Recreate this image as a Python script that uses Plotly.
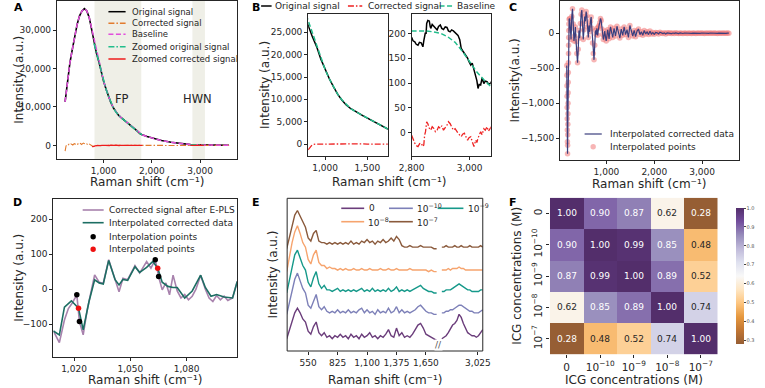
import numpy as np
import plotly.graph_objects as go

W, H = 765, 388
FONT = "DejaVu Sans, sans-serif"
INK = "#262626"

def X(p):
    return p / W

def Y(p):
    return 1 - p / H

# ---------------- Panel A / B data ----------------
a_x = [200, 250, 300, 350, 400, 450, 500, 550, 600, 650, 700, 750, 800, 850, 900, 950,
       1000, 1050, 1100, 1150, 1200, 1250, 1300, 1350, 1400, 1450, 1500, 1550, 1600, 1650,
       1700, 1750, 1800, 1900, 2000, 2200, 2400, 2600, 2800, 3000, 3200, 3400, 3600]
a_orig = [11300, 17000, 21500, 25000, 28500, 31500, 33700, 35000, 35600, 35000,
          33300, 30300, 26500, 24000, 21800, 19000, 16600, 14600, 12800, 11100,
          9800, 8750, 7950, 7350, 6850, 6300, 5800, 5300, 4800, 4300,
          3700, 3100, 2750, 2300, 1900, 1250, 800, 480, 200, 130, 80, 50, 35]
a_base = [11300, 17000, 21500, 25000, 28500, 31500, 33700, 35000, 35600, 35000,
          33300, 30400, 27700, 24600, 21900, 19100, 16700, 14600, 12800, 11100,
          9850, 8800, 7950, 7350, 6850, 6300, 5800, 5300, 4800, 4300,
          3700, 3150, 2750, 2300, 1900, 1250, 800, 480, 205, 130, 80, 50, 35]

a_corr_x = [200, 210, 220] + list(range(240, 801, 20)) + list(range(850, 3601, 50))
a_corr_y = [-1500, -700, -150,
            150, 50, 300, 150, 400, 250, 100, 350, 450, 200,
            400, 300, 550, 350, 500, 250, 400, 600, 450, 650,
            500, 300, 550, 400, 200, -100, -250, -300, -150,
            -20, 40, -30, 20, -40, 30, 0, -20, 40, -10,
            20, -30, 10, 30, -20, 0, 20, -10, 10, -20,
            30, -10, 10, -20, 20, 0, -10, 10, -10, 15,
            0, -10, 10, 0, -5, 5, -10, 5, 0, -10,
            10, 5, 0, -10, -5, 5, 0, -5, 5, 0,
            -5, 5, 0, -5, 5, 0]

fp_corr_x = list(range(760, 1801, 20))
fp_corr_y = [-300, -350, -250, -150, -50, -100, 0, -80, 30, -40,
             20, -60, 40, -20, 10, -50, 30, 0, -30, 40,
             -10, 20, -40, 10, 50, -20, 0, 30, -30, 10,
             40, -10, -40, 20, 0, 30, -20, 10, -30, 20,
             0, -20, 30, -10, 10, 40, -30, 0, 20, -10,
             10, -20, 0]

fp_range = [810, 1780]
hwn_range = [2840, 3100]

# B left: corrected signal of the fingerprint window
b_fp_corr_x = [800, 810, 820, 830, 845, 860, 880, 900, 925, 950, 975, 1000, 1050, 1100,
               1150, 1200, 1250, 1300, 1350, 1400, 1450, 1500, 1550, 1600, 1650, 1700, 1750]
b_fp_corr_y = [-1300, -1000, -750, -500, -250, -100, -20, 0, -40, 20,
               -10, -30, 0, 20, -30, 10, -20, 0, 20, -10,
               30, -10, 10, -20, 0, 10, -10]

# B right: high-wavenumber window
b_hwn_x = [2800, 2805, 2811, 2816, 2822, 2827, 2833, 2836, 2839, 2842, 2844, 2847, 2850, 2852,
           2856, 2861, 2864, 2866, 2871, 2877, 2882, 2888, 2893, 2899, 2904, 2910, 2916, 2922,
           2927, 2933, 2938, 2944, 2950, 2955, 2960, 2966, 2971, 2976, 2982, 2987, 2993, 2998,
           3004, 3009, 3015, 3018, 3021, 3025, 3029, 3033, 3038, 3043, 3049, 3054, 3060, 3065,
           3071, 3075]
b_hwn_orig = [192, 185, 183, 178, 176, 182, 181, 175, 173, 185, 197, 200, 200, 220,
              226, 225, 214, 210, 218, 215, 211, 207, 214, 217, 210, 208, 213, 212,
              205, 203, 207, 205, 202, 200, 196, 187, 170, 165, 160, 155, 150, 143,
              136, 140, 126, 118, 113, 105, 89, 97, 96, 110, 99, 104, 103, 98,
              99, 103]
b_hwn_base_x = [2800, 2825, 2850, 2875, 2900, 2925, 2950, 2975, 3000, 3025, 3050, 3075]
b_hwn_base = [205, 205, 205, 203, 200, 193, 182, 164, 142, 122, 106, 92]
b_hwn_corr_x = [2800, 2806, 2811, 2816, 2822, 2828, 2833, 2839, 2842, 2845,
                2848, 2852, 2856, 2861, 2866, 2871, 2877, 2882, 2888, 2893,
                2899, 2904, 2910, 2916, 2922, 2927, 2933, 2938, 2944, 2950,
                2955, 2960, 2966, 2971, 2976, 2982, 2987, 2993, 2998, 3004,
                3009, 3015, 3021, 3025, 3029, 3033, 3038, 3043, 3049, 3054,
                3060, 3065, 3071, 3075]
b_hwn_corr = [-5, -15, -21, -26, -28, -22, -21, -28, -25, -5,
              2, 22, 18, 9, 5, 12, 8, 2, 5, 12,
              9, 14, 5, 10, 15, 22, 18, 12, 5, 8,
              2, -1, -5, -8, -3, -1, -8, -15, -10, -8,
              -18, -28, -15, -20, -11, -5, 2, -4, 8, 5,
              12, 3, 10, 12]

# ---------------- Panel C data ----------------
c_x = (list(range(170, 187, 2)) + list(range(188, 215, 2)) + [220]
       + list(range(230, 1101, 15)) + list(range(1130, 3561, 30)))
c_y = ([-460, -600, -750, -900, -1060, -1220, -1380, -1550, -1720]
       + [-1600, -1450, -1300, -1150, -1000, -850, -700, -560, -420, -290, -170, -60, 40, 130]
       + [200]
       + [210, 60, -90, 240, 350, 130, -110, -40, 90, -120,
          -290, -420, -230, 40, -70, 140, 270, 330, 130, -90,
          50, 240, 170, 310, 250, 90, -60, 110, 20, 170,
          230, 70, -140, -290, -380, -170, 40, -20, 70, -30,
          90, 110, 150, 210, 180, 60, -20, -90, -40, 30,
          -50, -110, -40, 50, -10, -80, 20, 90, 40]
       + [-60, 70, -40, 100, 20, -70, 60, -30, 90, -20,
          50, -60, 110, 10, -40, 40, -50, 30, 60, -20,
          20, -30, 40, -10, 20, -20, 30, -10, 10, -15,
          10, 5, -10, 15, 0, -5, 5, -10, 5, 0,
          5, -5, 3, -3, 5, 0, -5, 4, 0, -4,
          3, 0, -3, 4, 0, -3, 2, 0, -3, 3,
          0, -2, 3, 0, -3, 2, 0, -2, 3, 0,
          -2, 2, 0, -3, 2, 0, -2, 3, 0, -2,
          2, 0])

# ---------------- Panel D data ----------------
d_pls_x = [1009, 1012.2, 1014.9, 1017, 1019, 1021.5, 1022.9, 1024.9, 1027, 1029,
           1031, 1033.4, 1035.6, 1038.5, 1041.9, 1044, 1046.1, 1048.6, 1052.5, 1055,
           1058.7, 1061, 1063.3, 1065.1, 1067, 1069, 1070.9, 1072.8, 1075, 1077,
           1079, 1081, 1083, 1085, 1087.5, 1090, 1092, 1094, 1096, 1098,
           1100, 1102, 1104.5, 1107]
d_pls_y = [-119, -152, -88, -55, -40, -16, -92, -130, -60, -5,
           41, 20, 17, 84, 25, -7, 31, 27, 67, 46,
           79, 60, 84, 36, -2, 18, -16, 40, -5, -25,
           -15, -30, -20, 0, 40, 0, -25, -35, -18, -30,
           -20, -32, -25, 22]
d_int_x = [1009, 1012.2, 1014.9, 1018.6, 1022.4, 1024.9, 1028, 1031, 1033.4, 1035.6,
           1038.5, 1041.9, 1044, 1046.1, 1048.6, 1052.5, 1055, 1058.7, 1062, 1064.6,
           1067, 1070, 1072.8, 1075, 1079, 1083, 1087.5, 1090, 1093, 1096,
           1100, 1104.5, 1107]
d_int_y = [-119, -130, -51, -33, -54, -116, -35, 27, 18, 15,
           82, 27, 12, 28, 25, 64, 48, 62, 79, 60,
           20, 8, 5, 5, -25, -5, 40, 5, -20, -15,
           -22, -25, 22]
d_anchor_x = [1021.5, 1022.9, 1063.3, 1065.1]
d_anchor_y = [-16, -92, 84, 36]
d_filled_x = [1022.4, 1064.6]
d_filled_y = [-54, 60]

# ---------------- Panel E data ----------------
e_names = ["0", "10<sup>−10</sup>", "10<sup>−9</sup>", "10<sup>−8</sup>", "10<sup>−7</sup>"]
e_offsets = [8, 24, 38, 52, 67]
e_xl = list(range(350, 1751, 25))
e_xr = list(range(2690, 3071, 20))
e_left = [
    [0, 6, 12, 17, 20, 17, 13, 11, 5, 3, 8, 11, 4, 2, 4, 1, 2, 0, 2, 1,
     3, 1, 2, 0, 3, 1, 2, 0, 3, 1, 2, 4, 1, 2, 0, 2, 1, 3, 6, 2,
     1, 7, 2, 4, 1, 2, 1, 3, 6, 9, 10, 7, 3, 2, 1, 0, -1],
    [0, 8, 16, 23, 27, 22, 17, 14, 6, 4, 9, 13, 5, 3, 5, 2, 1, 2, 1, 3,
     1, 2, 1, 3, 1, 2, 1, 3, 4, 1, 3, 1, 2, 0, 3, 1, 2, 1, 4, 1,
     2, 5, 1, 3, 1, 2, 1, 2, 3, 5, 6, 4, 2, 1, 1, 0, 0],
    [0, 9, 18, 25, 28, 23, 18, 15, 7, 4, 10, 14, 6, 3, 5, 2, 2, 1, 2, 3,
     1, 2, 1, 2, 1, 2, 1, 2, 3, 1, 2, 1, 3, 1, 2, 1, 2, 1, 3, 1,
     2, 4, 1, 2, 1, 2, 1, 2, 3, 4, 5, 3, 2, 1, 1, 0, 0],
    [0, 10, 19, 26, 30, 25, 19, 16, 8, 5, 11, 14, 6, 4, 4, 2, 3, 2, 2, 1,
     2, 1, 2, 1, 1, 2, 1, 1, 2, 1, 1, 2, 1, 1, 1, 2, 1, 1, 2, 1,
     1, 2, 1, 1, 1, 1, 2, 1, 1, 1, 1, 1, 1, 0, 1, 0, 0],
    [0, 8, 16, 22, 25, 21, 17, 14, 7, 5, 10, 12, 5, 4, 4, 3, 4, 3, 4, 3,
     4, 3, 4, 3, 5, 3, 4, 3, 5, 4, 6, 4, 5, 3, 5, 4, 6, 4, 5, 7,
     5, 8, 6, 2, 1, 1, 2, 1, 1, 1, 2, 1, 1, 1, 1, 0, 0],
]
e_right = [
    [0, 1, 2, 4, 7, 9, 10, 12, 16, 14, 10, 7, 4, 3, 2, 2, 1, 2, 4, 6],
    [1, 1, 2, 2, 3, 3, 4, 5, 6, 6, 5, 4, 3, 2, 2, 1, 1, 1, 2, 3],
    [1, 1, 2, 2, 2, 3, 4, 5, 6, 5, 4, 3, 2, 2, 1, 1, 1, 1, 2, 2],
    [1, 1, 1, 2, 1, 2, 2, 2, 3, 2, 2, 1, 1, 1, 1, 1, 1, 1, 1, 1],
    [1, 1, 2, 1, 1, 1, 2, 1, 1, 2, 1, 1, 1, 2, 1, 1, 1, 1, 2, 1],
]
e_colors = ["#6b3d7b", "#7d80b8", "#16998a", "#f6a46e", "#8a5a3c"]

# ---------------- Panel F data ----------------
f_labels = ["0", "10<sup>−10</sup>", "10<sup>−9</sup>", "10<sup>−8</sup>", "10<sup>−7</sup>"]
f_corr = [[1.00, 0.90, 0.87, 0.62, 0.28],
          [0.90, 1.00, 0.99, 0.85, 0.48],
          [0.87, 0.99, 1.00, 0.89, 0.52],
          [0.62, 0.85, 0.89, 1.00, 0.74],
          [0.28, 0.48, 0.52, 0.74, 1.00]]

# PuOr colormap, softened over white
puor = ["#7f3b08", "#b35806", "#e08214", "#fdb863", "#fee0b6", "#f7f7f7",
        "#d8daeb", "#b2abd2", "#8073ac", "#542788", "#2d004b"]
def soften(h, a=0.82):
    r, g, b = int(h[1:3], 16), int(h[3:5], 16), int(h[5:7], 16)
    return "rgb(%d,%d,%d)" % tuple(round(a * c + (1 - a) * 255) for c in (r, g, b))
f_scale = [[i / 10, soften(c)] for i, c in enumerate(puor)]

# ---------------- figure ----------------
fig = go.Figure()

def line(x, y, xa, ya, color, width=1.5, dash="solid"):
    fig.add_trace(go.Scatter(x=x, y=y, mode="lines", xaxis=xa, yaxis=ya,
                             line=dict(color=color, width=width, dash=dash)))

DASH = "5px,2.5px"
DASHDOT = "6px,2px,1.5px,2px"

# A
line(a_x, a_orig, "x", "y", "black", 1.6)
line(a_corr_x, a_corr_y, "x", "y", "#e27b2e", 1.1, DASHDOT)
line(a_x, a_base, "x", "y", "#e24fdc", 1.5, DASH)
zx = [v for v in a_x if fp_range[0] - 10 <= v <= 1800]
zy = [a_orig[a_x.index(v)] for v in zx]
line(zx + [None] + b_hwn_x, zy + [None] + b_hwn_orig, "x", "y", "#22bd8c", 1.5, DASHDOT)
line(fp_corr_x + [None] + b_hwn_corr_x, fp_corr_y + [None] + b_hwn_corr, "x", "y", "#ee1c1c", 1.3)

# B left
line(a_x, a_orig, "x2", "y2", "black", 1.5)
line(b_fp_corr_x, b_fp_corr_y, "x2", "y2", "#ee2222", 1.3, DASHDOT)
line(a_x, a_base, "x2", "y2", "#22bd8c", 1.5, DASH)
# B right
line(b_hwn_x, b_hwn_orig, "x3", "y3", "black", 1.5)
line(b_hwn_corr_x, b_hwn_corr, "x3", "y3", "#ee2222", 1.3, DASHDOT)
line(b_hwn_base_x, b_hwn_base, "x3", "y3", "#22bd8c", 1.5, DASH)

# C
fig.add_trace(go.Scatter(x=c_x, y=c_y, mode="markers", xaxis="x4", yaxis="y4",
                         marker=dict(color="rgba(240,120,120,0.55)", size=5.5, line=dict(width=0))))
line(c_x, c_y, "x4", "y4", "#3b3f7e", 1.2)

# D
line(d_pls_x, d_pls_y, "x5", "y5", "#a882ad", 1.6)
line(d_int_x, d_int_y, "x5", "y5", "#1d6e63", 1.6)
fig.add_trace(go.Scatter(x=d_anchor_x, y=d_anchor_y, mode="markers", xaxis="x5", yaxis="y5",
                         marker=dict(color="black", size=5.5)))
fig.add_trace(go.Scatter(x=d_filled_x, y=d_filled_y, mode="markers", xaxis="x5", yaxis="y5",
                         marker=dict(color="#ee1111", size=5.5)))

# E
for i in range(5):
    yl = [e_offsets[i] + v for v in e_left[i]]
    yr = [e_offsets[i] + v for v in e_right[i]]
    line(e_xl, yl, "x6", "y6", e_colors[i], 1.4)
    line(e_xr, yr, "x7", "y6", e_colors[i], 1.4)

# F
fig.add_trace(go.Heatmap(z=f_corr, x=list(range(5)), y=list(range(5)), xaxis="x8", yaxis="y8",
                         colorscale=f_scale, zmin=0.28, zmax=1.0,
                         colorbar=dict(thickness=8, len=156 / H, lenmode="fraction",
                                       x=X(747.7), xanchor="left", y=Y(276), yanchor="middle",
                                       outlinewidth=0, ticks="outside", ticklen=2,
                                       tickvals=[0.3, 0.4, 0.5, 0.6, 0.7, 0.8, 0.9, 1.0],
                                       tickformat=".1f",
                                       tickfont=dict(size=5, color="#555", family=FONT))))

# ---------------- axes ----------------
TICK = 9

def ax(**kw):
    d = dict(showline=True, linecolor=INK, linewidth=1, mirror=True, ticks="outside",
             ticklen=3, tickwidth=1, tickcolor=INK, showgrid=False, zeroline=False,
             tickangle=0, tickfont=dict(family=FONT, size=TICK, color=INK), tickformat=",")
    d.update(kw)
    return d

RS = "Raman shift (cm⁻¹)"
IA = "Intensity (a.u.)"

fig.update_layout(
    width=W, height=H, margin=dict(l=0, r=0, t=0, b=0), autosize=False,
    paper_bgcolor="white", plot_bgcolor="white", showlegend=False,
    font=dict(family=FONT, color=INK),
    xaxis=ax(domain=[X(46), X(235)], range=[30, 3770], tickvals=[1000, 2000, 3000], anchor="y"),
    yaxis=ax(domain=[Y(159), Y(1)], range=[-3540, 37570], tickvals=[0, 10000, 20000, 30000],
             anchor="x"),
    xaxis2=ax(domain=[X(309.3), X(392.7)], range=[800, 1740], tickvals=[1000, 1500], anchor="y2"),
    yaxis2=ax(domain=[Y(156), Y(14)], range=[-2680, 29100],
              tickvals=[0, 5000, 10000, 15000, 20000, 25000], anchor="x2"),
    xaxis3=ax(domain=[X(417.7), X(500.7)], range=[2800, 3073], tickvals=[2800, 3000], anchor="y3"),
    yaxis3=ax(domain=[Y(156), Y(14)], range=[-47, 239], tickvals=[0, 50, 100, 150, 200], anchor="x3"),
    xaxis4=ax(domain=[X(573.3), X(760.7)], range=[30, 3770], tickvals=[1000, 2000, 3000], anchor="y4"),
    yaxis4=ax(domain=[Y(160), Y(1)], range=[-1810, 460], tickvals=[-1500, -1000, -500, 0], anchor="x4"),
    xaxis5=ax(domain=[X(42.3), X(235)], range=[1009, 1107], tickvals=[1020, 1050, 1080], anchor="y5"),
    yaxis5=ax(domain=[Y(357.3), Y(199)], range=[-194, 257], tickvals=[-100, 0, 100, 200], anchor="x5"),
    xaxis6=ax(domain=[X(287.3), X(444.3)], range=[354, 1753], showline=False,
              tickvals=[550, 825, 1100, 1375, 1650], anchor="y6"),
    xaxis7=ax(domain=[X(446), X(492.3)], range=[2660, 3070], showline=False,
              tickvals=[3025], anchor="y6"),
    yaxis6=ax(domain=[Y(351), Y(198.3)], range=[0, 100], showline=False, ticks="",
              showticklabels=False, anchor="x6"),
    xaxis8=ax(domain=[X(562.7), X(738.3)], range=[-0.5, 4.5], showline=False, mirror=False,
              tickvals=list(range(5)), ticktext=f_labels, anchor="y8", ticklen=3,
              tickfont=dict(family=FONT, size=10.5, color=INK)),
    yaxis8=ax(domain=[Y(354.3), Y(197.7)], range=[4.5, -0.5], showline=False, mirror=False,
              tickvals=list(range(5)), ticktext=f_labels, anchor="x8", ticklen=3, tickangle=-90,
              tickfont=dict(family=FONT, size=10.5, color=INK)),
)

shapes = []
annotations = []

def ann(x, y, text, size, angle=0, xanchor="center", color=INK, family=FONT):
    annotations.append(dict(xref="paper", yref="paper", x=X(x), y=Y(y), text=text,
                            showarrow=False, xanchor=xanchor, yanchor="middle",
                            textangle=angle, font=dict(size=size, family=family, color=color)))

# axis titles
TS = 12
ann(140.5, 182, RS, TS)
ann(394, 182, RS, TS)
ann(667, 184, RS, TS)
ann(138.7, 380, RS, TS)
ann(389.5, 380, RS, TS)
ann(650.5, 380, "ICG concentrations (M)", TS)
ann(6, 80, IA, TS, -90)
ann(264, 85, IA, TS, -90)
ann(526.5, 80, "Intensity(a.u.)", TS, -90)
ann(6, 278, IA, TS, -90)
ann(272, 275, IA, TS, -90)
ann(528, 276, "ICG concentrations (M)", TS, -90)

# heatmap cell values, coloured for contrast
for i, row in enumerate(f_corr):
    for j, v in enumerate(row):
        annotations.append(dict(xref="x8", yref="y8", x=j, y=i, text="%.2f" % v, showarrow=False,
                                font=dict(size=9, family=FONT,
                                          color="white" if (v >= 0.8 or v <= 0.3) else INK)))

# shaded FP / HWN regions in A
for r in (fp_range, hwn_range):
    shapes.append(dict(type="rect", xref="x", yref="y domain", x0=r[0], x1=r[1], y0=0, y1=1,
                       fillcolor="#efefe7", line=dict(width=0), layer="below"))
annotations.append(dict(xref="x", yref="y", x=1380, y=12000, text="FP", showarrow=False,
                        font=dict(size=11.5, family=FONT, color=INK)))
annotations.append(dict(xref="x", yref="y", x=2950, y=12000, text="HWN", showarrow=False,
                        font=dict(size=11.5, family=FONT, color=INK)))

# frame of panel E (broken axis)
shapes.append(dict(type="rect", xref="paper", yref="paper", x0=X(287.3), x1=X(492.3),
                   y0=Y(351), y1=Y(198.3), line=dict(color=INK, width=1)))
annotations.append(dict(xref="paper", yref="paper", x=X(445.5), y=Y(351), text="//",
                        showarrow=False, bgcolor="white", borderpad=0,
                        font=dict(size=9, family=FONT, color="#555")))

# panel letters
for t, (lx, ly) in zip("ABCDEF", [(6, 7), (255, 7), (524, 7), (5, 202), (255, 202), (524, 202)]):
    ann(lx, ly, "<b>%s</b>" % t, 11, color="black")

# hand-built legends
def leg_line(x0, x1, y, color, dash="solid", width=1.5):
    shapes.append(dict(type="line", xref="paper", yref="paper", x0=X(x0), x1=X(x1),
                       y0=Y(y), y1=Y(y), line=dict(color=color, dash=dash, width=width)))

def leg_dot(x, y, color, r=2.7):
    shapes.append(dict(type="circle", xref="paper", yref="paper", xsizemode="pixel",
                       ysizemode="pixel", xanchor=X(x), yanchor=Y(y), x0=-r, x1=r, y0=-r, y1=r,
                       fillcolor=color, line=dict(width=0)))

def leg_text(x, y, text, size):
    ann(x, y, text, size, xanchor="left")

# A legend
a_leg = [("Original signal", "black", "solid"), ("Corrected signal", "#e27b2e", DASHDOT),
         ("Baseline", "#e24fdc", DASH), ("Zoomed original signal", "#22bd8c", DASHDOT),
         ("Zoomed corrected signal", "#ee1c1c", "solid")]
for (txt, col, ds), yy in zip(a_leg, [11.7, 23.3, 34.3, 46.7, 59]):
    leg_line(100, 118, yy, col, ds)
    leg_text(123, yy, txt, 8.5)

# B legend
for (txt, col, ds), (x0, x1, tx) in zip(
        [("Original signal", "black", "solid"), ("Corrected signal", "#ee2222", DASHDOT),
         ("Baseline", "#22bd8c", DASH)],
        [(260, 271, 272), (351, 366, 370), (447, 461, 463)]):
    leg_line(x0, x1, 6, col, ds)
    leg_text(tx, 6, txt, 9)

# C legend
leg_line(599, 617, 134, "#3b3f7e", "solid", 1.2)
leg_text(624, 134, "Interpolated corrected data", 9)
leg_dot(608, 146.7, "rgba(240,120,120,0.55)")
leg_text(624, 146.7, "Interpolated points", 9)

# D legend
leg_line(73, 95, 210, "#a882ad", "solid", 1.6)
leg_text(99, 210, "Corrected signal after E-PLS", 9)
leg_line(73, 95, 222.7, "#1d6e63", "solid", 1.6)
leg_text(99, 222.7, "Interpolated corrected data", 9)
leg_dot(84, 236.7, "black")
leg_text(99, 236.7, "Interpolation points", 9)
leg_dot(84, 249.3, "#ee1111")
leg_text(99, 249.3, "Interpolated points", 9)

# E legend
e_pos = [(344, 368, 371, 208.3), (394, 419, 421, 208.3), (445, 472, 475, 208.3),
         (344, 368, 370, 221.7), (394, 419, 421, 221.7)]
for i, (x0, x1, tx, yy) in enumerate(e_pos):
    leg_line(x0, x1, yy, e_colors[i], "solid", 1.6)
    leg_text(tx, yy, e_names[i], 9)

fig.update_layout(shapes=shapes, annotations=annotations)
fig.write_html("out.html")
